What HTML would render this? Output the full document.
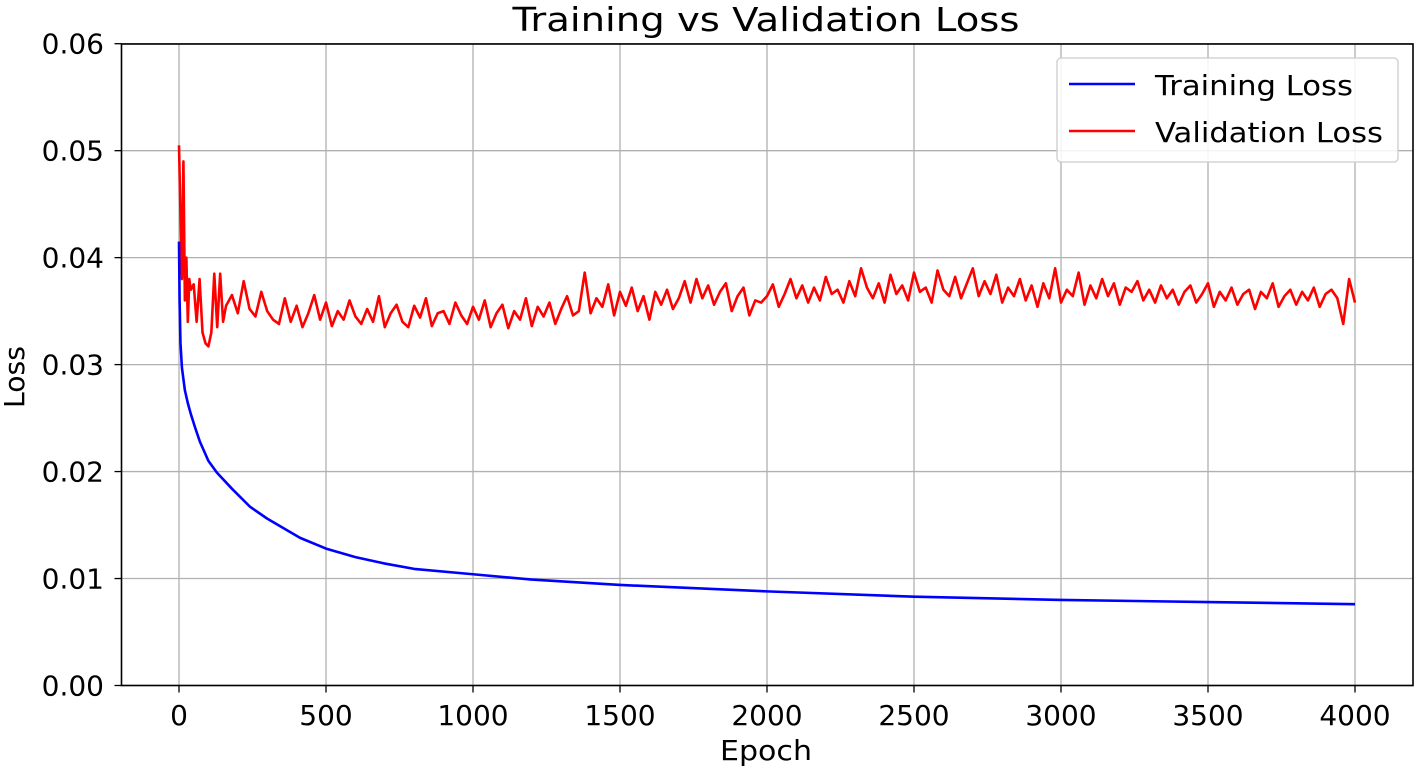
<!DOCTYPE html>
<html><head><meta charset="utf-8"><style>
body{margin:0;background:#fff}
svg text{font-family:"DejaVu Sans","Liberation Sans",sans-serif;fill:#000}
</style></head><body>
<svg id="chart" width="1417" height="771" xmlns="http://www.w3.org/2000/svg">
<g id="grid"></g>
<g id="series"></g>
<rect x="121.5" y="44" width="1291.5" height="641.5" fill="none" stroke="#000" stroke-width="1.6"/>
<g id="ticks"></g>
<text x="766" y="31" font-size="33" text-anchor="middle" textLength="507" lengthAdjust="spacingAndGlyphs">Training vs Validation Loss</text>
<text x="766" y="760" font-size="28" text-anchor="middle" textLength="92" lengthAdjust="spacingAndGlyphs">Epoch</text>
<text x="24" y="377" font-size="28" text-anchor="middle" textLength="62" lengthAdjust="spacingAndGlyphs" transform="rotate(-90 24 377)">Loss</text>
<g>
<rect x="1057" y="58" width="341" height="104" rx="4" fill="#fff" fill-opacity="0.85" stroke="#ccc" stroke-width="1.3"/>
<line x1="1069" y1="84" x2="1135" y2="84" stroke="#0000ff" stroke-width="2.5"/>
<text x="1155" y="95" font-size="28" textLength="198" lengthAdjust="spacingAndGlyphs">Training Loss</text>
<line x1="1069" y1="131" x2="1135" y2="131" stroke="#ff0000" stroke-width="2.5"/>
<text x="1155" y="142" font-size="28" textLength="228" lengthAdjust="spacingAndGlyphs">Validation Loss</text>
</g>
</svg>
<script>
const xTicks=[0,500,1000,1500,2000,2500,3000,3500,4000];
const yTicks=[0,0.01,0.02,0.03,0.04,0.05,0.06];
const yTickLabels=["0.00","0.01","0.02","0.03","0.04","0.05","0.06"];
const trainEpochs=[0,2,5,10,20,30,40,55,71,100,129,180,242,300,412,500,600,700,800,1000,1200,1500,2000,2500,3000,3500,4000];
const trainLoss=[0.0415,0.036,0.032,0.0297,0.0276,0.0264,0.0254,0.0241,0.0228,0.021,0.0199,0.0184,0.0167,0.0156,0.0138,0.0128,0.012,0.0114,0.0109,0.0104,0.0099,0.0094,0.0088,0.0083,0.008,0.0078,0.0076];
const valEarlyEpochs=[0,5,10,15,20,25,30,35,40,50,60,70,80,90,100,110,120,130,140,150];
const valEarly=[50.5,44,38,49,36,40,34,38,37,37.5,34,38,33,32,31.7,33,38.5,33.5,38.5,34];
const valStart=160, valStep=20;
const valLate=[35.5,36.5,34.8,37.8,35.2,34.5,36.8,35.0,34.2,33.8,
36.2,34.0,35.5,33.5,34.8,36.5,34.2,35.8,33.6,35.0,
34.2,36.0,34.5,33.8,35.2,34.0,36.4,33.5,34.8,35.6,
34.0,33.5,35.5,34.4,36.2,33.6,34.8,35.0,33.8,35.8,
34.6,33.8,35.4,34.2,36.0,33.5,34.8,35.6,33.4,35.0,
34.2,36.2,33.6,35.4,34.5,35.8,33.8,35.2,36.4,34.6,
35.0,38.6,34.8,36.2,35.4,37.5,34.6,36.8,35.5,37.2,
35.0,36.4,34.2,36.8,35.6,37.0,35.2,36.2,37.8,35.8,
38.0,36.2,37.4,35.6,36.8,37.6,35.0,36.4,37.2,34.6,
36.0,35.8,36.4,37.5,35.4,36.6,38.0,36.2,37.4,35.8,
37.2,36.0,38.2,36.6,37.0,35.8,37.8,36.4,39.0,37.2,
36.2,37.6,35.8,38.4,36.6,37.4,36.0,38.6,36.8,37.2,
35.8,38.8,37.0,36.4,38.2,36.2,37.6,39.0,36.4,37.8,
36.6,38.4,35.8,37.2,36.4,38.0,36.0,37.4,35.4,37.6,
36.2,39.0,35.8,37.0,36.4,38.6,35.6,37.4,36.2,38.0,
36.4,37.6,35.6,37.2,36.8,37.8,36.0,37.0,35.8,37.4,
36.2,37.0,35.6,36.8,37.4,35.8,36.6,37.6,35.4,36.8,
36.0,37.2,35.6,36.6,37.0,35.2,36.8,36.2,37.6,35.4,
36.4,37.0,35.6,36.8,36.0,37.2,35.4,36.6,37.0,36.2,
33.8,38.0,35.8];
const NS="http://www.w3.org/2000/svg";
const X0=121.5,X1=1413,Y0=44,Y1=685.5;
const xs=v=>179+v*(1355-179)/4000;
const ys=v=>685.5-v*(685.5-43.7)/0.06;
function mk(t,p,a){const e=document.createElementNS(NS,t);for(const k in a)e.setAttribute(k,a[k]);p.appendChild(e);return e;}
const grid=document.getElementById('grid'),ticks=document.getElementById('ticks'),series=document.getElementById('series');
xTicks.forEach(v=>{const x=xs(v);
 const g=mk('line',grid,{x1:x,x2:x,y1:Y0,y2:Y1,stroke:'#b0b0b0','stroke-width':1.3});
 
 
 const t=mk('line',ticks,{x1:x,x2:x,y1:Y1,y2:Y1+7,stroke:'#000','stroke-width':1.3});
 
 
 const l=mk('text',ticks,{x:x,y:725,'font-size':28,'text-anchor':'middle'});l.textContent=v;
 
 
});
yTicks.forEach((v,i)=>{const y=ys(v);
 const g=mk('line',grid,{x1:X0,x2:X1,y1:y,y2:y,stroke:'#b0b0b0','stroke-width':1.3});
 
 
 const t=mk('line',ticks,{x1:X0-7,x2:X0,y1:y,y2:y,stroke:'#000','stroke-width':1.3});
 
 
 const l=mk('text',ticks,{x:104,y:y+10,'font-size':28,'text-anchor':'end'});l.textContent=yTickLabels[i];
 
 
});
let vp=valEarlyEpochs.map((e,i)=>[e,valEarly[i]/1000]);
valLate.forEach((v,i)=>vp.push([valStart+i*valStep,v/1000]));
const vl=mk('polyline',series,{points:vp.map(p=>xs(p[0])+','+ys(p[1])).join(' '),fill:'none',stroke:'#ff0000','stroke-width':2.6,'stroke-linejoin':'round'});


const tl=mk('polyline',series,{points:trainEpochs.map((e,i)=>xs(e)+','+ys(trainLoss[i])).join(' '),fill:'none',stroke:'#0000ff','stroke-width':2.6,'stroke-linejoin':'round'});


</script>
</body></html>
